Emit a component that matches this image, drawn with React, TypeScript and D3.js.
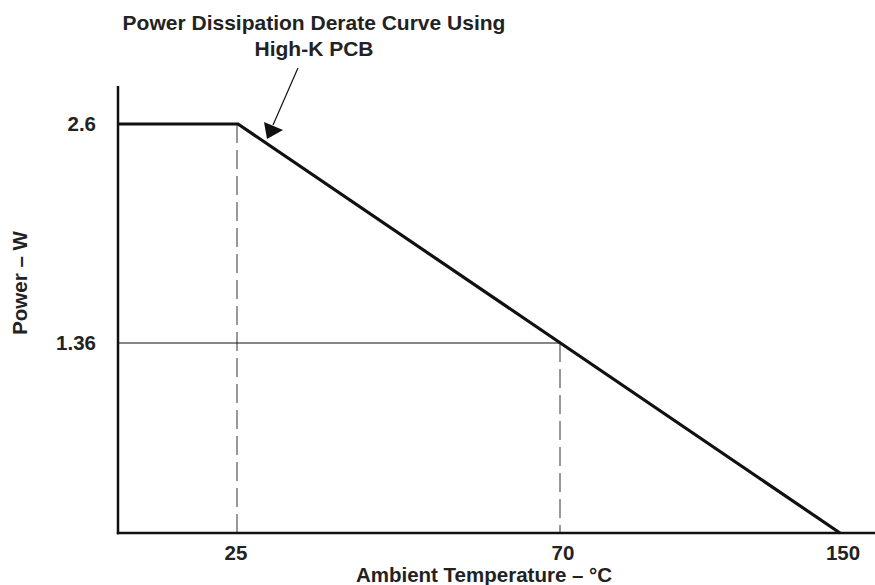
import React from "react";
import * as d3 from "d3";

// Data
const curveTemps = [0, 25, 150];
const curvePower = [2.6, 2.6, 0];
const xTicks = [25, 70, 150];
const xTickLabels = ["25", "70", "150"];
const yTicks = [2.6, 1.36];
const yTickLabels = ["2.6", "1.36"];
const refPoint = { t: 70, p: 1.36 };
const titleLines = ["Power Dissipation Derate Curve Using", "High-K PCB"];
const xTitle = "Ambient Temperature – °C";
const yTitle = "Power – W";

const W = 875;
const H = 585;

export default function App() {
  // schematic (piecewise) scales as in the original datasheet drawing
  const x = d3.scaleLinear().domain([0, 25, 70, 150]).range([118, 238, 560, 840]);
  const y = d3.scaleLinear().domain([0, 1.36, 2.6]).range([533, 343, 124]);

  const line = d3
    .line<number>()
    .x((_, i) => x(curveTemps[i]))
    .y((d) => y(d));
  const path = line(curvePower) || "";

  const font = "'Liberation Sans', Arial, sans-serif";
  const fs = 20.5;

  return (
    <svg width={W} height={H} style={{ position: "absolute", left: 0, top: 0, background: "#fff" }}>
      <rect width={W} height={H} fill="#fff" />
      {/* dashed verticals */}
      <line x1={x(25) - 1} x2={x(25) - 1} y1={y(2.6)} y2={y(0)} stroke="#333" strokeWidth={1} strokeDasharray="19,7" />
      <line x1={x(refPoint.t)} x2={x(refPoint.t)} y1={y(refPoint.p)} y2={y(0)} stroke="#333" strokeWidth={1} strokeDasharray="19,7" />
      {/* horizontal at 1.36 */}
      <line x1={x(0)} x2={x(refPoint.t)} y1={y(refPoint.p)} y2={y(refPoint.p)} stroke="#111" strokeWidth={1.2} />
      {/* axes */}
      <line x1={x(0)} x2={x(0)} y1={86} y2={y(0) + 1.2} stroke="#111" strokeWidth={2.5} />
      <line x1={x(0) - 1.2} x2={W} y1={y(0)} y2={y(0)} stroke="#111" strokeWidth={2.5} />
      {/* curve */}
      <path d={path} fill="none" stroke="#111" strokeWidth={3.2} strokeLinejoin="miter" />
      {/* arrow */}
      <line x1={298} y1={68} x2={273} y2={125} stroke="#111" strokeWidth={1.2} />
      <polygon points="264,122 283,130 267,139" fill="#111" />
      {/* y tick labels */}
      {yTicks.map((v, i) => (
        <text key={v} x={96} y={y(v)} dy="0.36em" textAnchor="end" fontFamily={font} fontWeight="bold" fontSize={fs} fill="#222">
          {yTickLabels[i]}
        </text>
      ))}
      {/* x tick labels */}
      {xTicks.map((v, i) => (
        <text key={v} x={x(v) + (i === 0 ? -2 : 3)} y={560} textAnchor="middle" fontFamily={font} fontWeight="bold" fontSize={fs} fill="#222">
          {xTickLabels[i]}
        </text>
      ))}
      {/* axis titles */}
      <text x={484} y={582} textAnchor="middle" fontFamily={font} fontWeight="bold" fontSize={fs} fill="#222">
        {xTitle}
      </text>
      <text transform={`translate(27,283) rotate(-90)`} textAnchor="middle" fontFamily={font} fontWeight="bold" fontSize={fs} fill="#222">
        {yTitle}
      </text>
      {/* title */}
      {titleLines.map((t, i) => (
        <text key={i} x={314} y={30 + i * 26} textAnchor="middle" fontFamily={font} fontWeight="bold" fontSize={21} fill="#222">
          {t}
        </text>
      ))}
    </svg>
  );
}
